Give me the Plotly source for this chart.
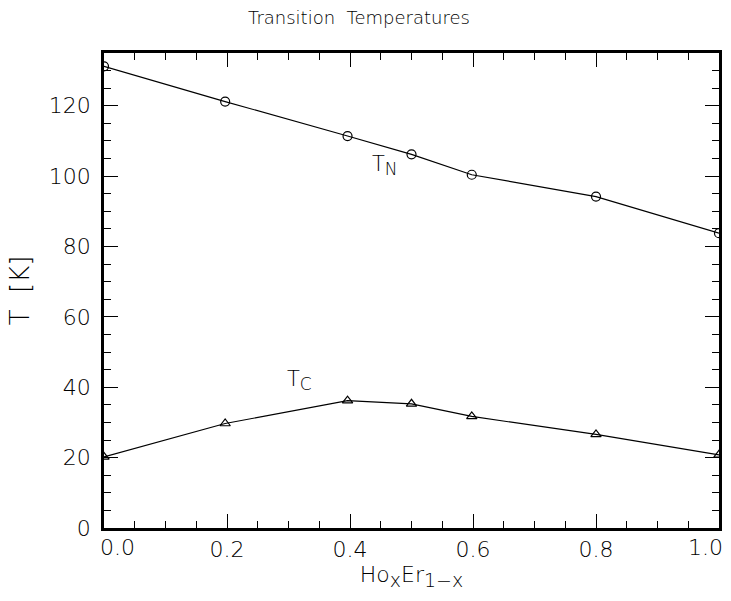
import plotly.graph_objects as go

# Data
x_vals = [0.0, 0.197, 0.396, 0.5, 0.598, 0.8, 1.0]
tn_vals = [131.2, 121.2, 111.4, 106.2, 100.4, 94.2, 83.8]
tc_vals = [20.2, 29.7, 36.2, 35.3, 31.7, 26.6, 20.8]
x_tick_vals = [0.0, 0.2, 0.4, 0.6, 0.8, 1.0]
x_tick_text = ["0.0", "0.2", "0.4", "0.6", "0.8", "1.0"]
y_tick_vals = [0, 20, 40, 60, 80, 100, 120]
y_tick_text = ["0", "20", "40", "60", "80", "100", "120"]

FONT = "DejaVu Sans"
LIGHT = 200
TICKSIZE = 22

fig = go.Figure()
fig.add_trace(go.Scatter(
    x=x_vals, y=tn_vals, mode="lines+markers",
    line=dict(color="black", width=1.2),
    marker=dict(symbol="circle-open", size=9, color="black", line=dict(width=1.2)),
    showlegend=False,
))
fig.add_trace(go.Scatter(
    x=x_vals, y=tc_vals, mode="lines+markers",
    line=dict(color="black", width=1.2),
    marker=dict(symbol="triangle-up-open", size=9, color="black", line=dict(width=1.2)),
    showlegend=False,
))

# inner tick labels drawn by the axis; the end labels are shifted inward as annotations
inner_vals = [v for v in x_tick_vals if 0 < v < 1]
inner_text = [t for v, t in zip(x_tick_vals, x_tick_text) if 0 < v < 1]

axis_common = dict(
    showline=True, linecolor="black", linewidth=2.5, mirror="allticks",
    ticks="inside", ticklen=14, tickwidth=1.2, tickcolor="black",
    showgrid=False, zeroline=False,
    tickfont=dict(family=FONT, size=TICKSIZE, color="black", weight=LIGHT),
)


def sub(s, px):
    return "<sub><span style=\"font-size:%dpx\">%s</span></sub>" % (px, s)


fig.update_xaxes(
    range=[0, 1], tickvals=inner_vals, ticktext=inner_text,
    minor=dict(dtick=0.05, ticklen=7, ticks="inside", tickcolor="black", tickwidth=1.2),
    title=dict(text="Ho" + sub("x", 19) + "Er" + sub("1\u2212x", 19),
               font=dict(family=FONT, size=22, color="black", weight=LIGHT), standoff=4),
    **axis_common,
)
fig.update_yaxes(
    range=[0, 135], tickvals=y_tick_vals, ticktext=y_tick_text,
    ticklabelstandoff=6,
    minor=dict(dtick=5, ticklen=7, ticks="inside", tickcolor="black", tickwidth=1.2),
    title=dict(text="T  [K]", font=dict(family=FONT, size=26, color="black", weight=LIGHT), standoff=12),
    **axis_common,
)

annotations = [
    dict(x=0.0, y=0, xref="x", yref="paper", text=x_tick_text[0], showarrow=False,
         xanchor="left", yanchor="top", xshift=-6, yshift=-5,
         font=dict(family=FONT, size=TICKSIZE, color="black", weight=LIGHT)),
    dict(x=1.0, y=0, xref="x", yref="paper", text=x_tick_text[-1], showarrow=False,
         xanchor="right", yanchor="top", xshift=6, yshift=-5,
         font=dict(family=FONT, size=TICKSIZE, color="black", weight=LIGHT)),
    dict(x=0.432, y=103.0, xref="x", yref="y", text="T" + sub("N", 17), showarrow=False,
         xanchor="left", yanchor="middle",
         font=dict(family=FONT, size=21, color="black", weight=LIGHT)),
    dict(x=0.295, y=42.0, xref="x", yref="y", text="T" + sub("C", 17), showarrow=False,
         xanchor="left", yanchor="middle",
         font=dict(family=FONT, size=21, color="black", weight=LIGHT)),
]

fig.update_layout(
    width=731, height=601,
    margin=dict(l=104, r=9, t=53, b=73, pad=0),
    paper_bgcolor="white", plot_bgcolor="white",
    title=dict(text="Transition  Temperatures", x=359 / 731, xref="container", xanchor="center",
               y=1 - 18 / 601, yanchor="middle",
               font=dict(family=FONT, size=18, color="black", weight=LIGHT)),
    annotations=annotations,
)

fig.write_html("out.html")
